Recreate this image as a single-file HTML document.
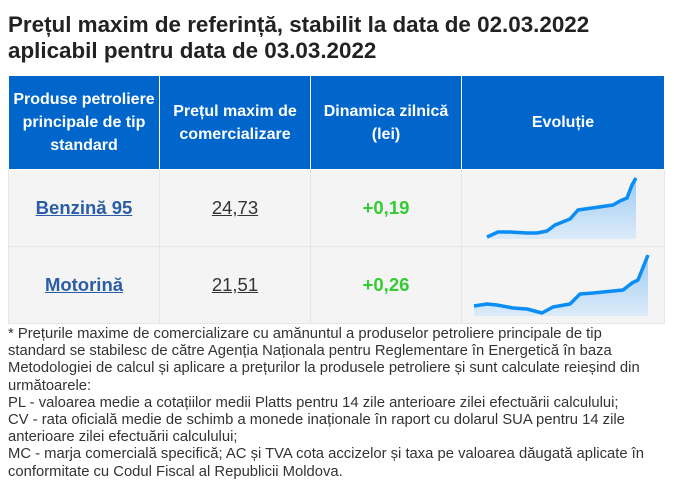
<!DOCTYPE html>
<html><head><meta charset="utf-8"><style>
body{margin:0;background:#fff;font-family:"Liberation Sans",sans-serif;width:677px;height:501px;overflow:hidden}
h1{position:absolute;left:8px;top:12px;margin:0;font-size:22.4px;line-height:26px;font-weight:bold;color:#222}
table{position:absolute;left:8px;top:75px;border-collapse:collapse;width:657px;table-layout:fixed}
th{background:#0066cc;color:#fff;font-size:16px;line-height:23px;font-weight:bold;border:1px solid #fff;height:93px;padding:0 6px;text-align:center}
th.a{padding:0}
td{background:#f4f4f4;border:1px solid #e6e6e6;height:76px;padding:0;text-align:center;font-size:18.5px}
.n{color:#2a5ca8;font-weight:bold;text-decoration:underline}
.p{color:#333;text-decoration:underline}
.g{color:#3c3;font-weight:bold}
.note{position:absolute;left:8px;top:326px;width:640px;font-size:14.8px;line-height:17.2px;color:#333}
</style></head><body>
<h1>Prețul maxim de referință, stabilit la data de 02.03.2022<br>aplicabil pentru data de 03.03.2022</h1>
<table>
<tr><th class="a" style="width:150px">Produse petroliere principale de tip standard</th><th style="width:138px">Prețul maxim de comercializare</th><th style="width:138px">Dinamica zilnică (lei)</th><th>Evoluție</th></tr>
<tr><td class="n">Benzină 95</td><td class="p">24,73</td><td class="g">+0,19</td><td></td></tr>
<tr><td class="n">Motorină</td><td class="p">21,51</td><td class="g">+0,26</td><td></td></tr>
</table>
<svg style="position:absolute;left:0;top:0" width="677" height="501">
<defs><linearGradient id="f" x1="0" y1="0" x2="0" y2="1"><stop offset="0" stop-color="#9ccbf3"/><stop offset="1" stop-color="#dcebf9"/></linearGradient></defs>
<path d="M487,237 L498,232 510,232 527,233 537,233 547,231 555,225 570,219 578,210 585,209 613,205 620,201 627,198 632,185 636,178 L636,239 487,239Z" fill="url(#f)"/>
<polyline points="487,237 498,232 510,232 527,233 537,233 547,231 555,225 570,219 578,210 585,209 613,205 620,201 627,198 632,185 636,178" fill="none" stroke="#0a8ef5" stroke-width="3.5" stroke-linejoin="round"/>
<path d="M474,306 L487,304 497,305 513,308 527,309 542,313 553,307 570,304 580,294 593,293 623,290 632,283 638,280 648,255 L648,316 474,316Z" fill="url(#f)"/>
<polyline points="474,306 487,304 497,305 513,308 527,309 542,313 553,307 570,304 580,294 593,293 623,290 632,283 638,280 648,255" fill="none" stroke="#0a8ef5" stroke-width="3.5" stroke-linejoin="round"/>
</svg>
<div class="note">* Prețurile maxime de comercializare cu amănuntul a produselor petroliere principale de tip standard se stabilesc de către Agenția Naționala pentru Reglementare în Energetică în baza Metodologiei de calcul și aplicare a prețurilor la produsele petroliere și sunt calculate reieșind din următoarele:<br>PL - valoarea medie a cotațiilor medii Platts pentru 14 zile anterioare zilei efectuării calculului;<br>CV - rata oficială medie de schimb a monede inaționale în raport cu dolarul SUA pentru 14 zile anterioare zilei efectuării calculului;<br>MC - marja comercială specifică; AC și TVA cota accizelor și taxa pe valoarea dăugată aplicate în conformitate cu Codul Fiscal al Republicii Moldova.</div>
</body></html>
